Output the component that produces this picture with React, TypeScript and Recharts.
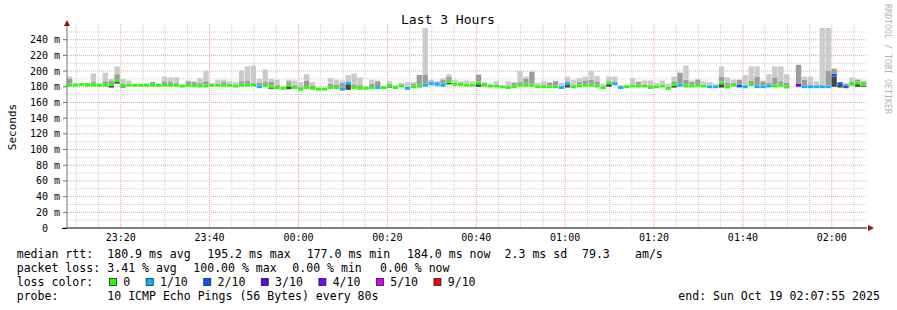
import React from "react";
import { ComposedChart, Bar, XAxis, YAxis, CartesianGrid, Cell } from "recharts";

// SmokePing "Last 3 Hours" graph, 80s steps from 23:07:55 to 02:07:55
const startTime = "23:07:55";
const windowSeconds = 3 * 3600;
const stepSeconds = 80;
const timeLabels = ["23:20", "23:40", "00:00", "00:20", "00:40", "01:00", "01:20", "01:40", "02:00"];
const yTicks = [0, 20, 40, 60, 80, 100, 120, 140, 160, 180, 200, 220, 240];
const yMinor = [10, 30, 50, 70, 90, 110, 130, 150, 170, 190, 210, 230, 250];
const yMax = 260;

// median rtt (ms) per step, null = all pings lost
const median: (number | null)[] = [
  182, 182, 183, 182, 182, 182, 182, 183, 188, 182, 182, 182, 182, 182, 182, 182, 182, 182, 182, 181,
  182, 182, 181, 181, 182, 182, 182, 182, 181, 182, 182, 182, 180, 182, 180, 179, 178, 182, 179, 177,
  179, 178, 177, 177, 179, 179, 177, 185, 179, 178, 178, 179, 179, 179, 182, 179, 181, 178, 180, 181,
  182, 184, 183, 182, 187, 183, 183, 182, 182, 185, 182, 181, 181, 180, 179, 180, 182, 182, 182, 180,
  180, 180, 180, 179, 184, 180, 181, 182, 182, 181, 179, 185, 184, 179, 180, 181, 181, 181, 179, 180,
  181, 178, 183, 182, 181, 181, 182, 181, 180, 180, 185, 180, 182, 181, 180, 183, 180, 180, 181, 181,
  182, 180, null, 182, 180, 180, 180, 180, 180, 195, 184, 180, 183, 185, 183,
];
// lost pings out of 10
const loss = [
  0, 0, 0, 0, 0, 0, 0, 0, 0, 0, 0, 0, 0, 0, 0, 0, 0, 0, 0, 0,
  0, 0, 0, 0, 0, 0, 0, 0, 0, 0, 0, 0, 1, 0, 0, 0, 0, 0, 0, 0,
  0, 0, 0, 0, 0, 0, 1, 1, 0, 0, 0, 0, 1, 0, 0, 0, 0, 1, 0, 0,
  1, 1, 1, 1, 0, 0, 0, 0, 0, 0, 0, 0, 0, 0, 0, 0, 0, 0, 0, 0,
  0, 0, 0, 1, 1, 0, 0, 0, 0, 0, 0, 0, 1, 1, 0, 0, 0, 0, 0, 0,
  0, 0, 0, 1, 0, 0, 0, 0, 1, 1, 0, 0, 0, 2, 1, 0, 1, 1, 1, 0,
  0, 0, 10, 3, 1, 1, 1, 1, 1, 2, 2, 2, 0, 0, 0,
];
// fastest ping
const low = [
  181, 181, 182, 181, 181, 181, 181, 179, 184, 179, 181, 181, 181, 181, 181, 180, 181, 181, 181, 180,
  180, 180, 180, 180, 181, 181, 181, 181, 180, 181, 181, 181, 179, 181, 177, 178, 177, 177, 178, 176,
  178, 177, 176, 176, 178, 178, 176, 176, 178, 177, 177, 178, 178, 178, 179, 178, 180, 176, 179, 179,
  181, 182, 182, 181, 183, 182, 182, 181, 181, 180, 181, 180, 180, 179, 178, 179, 181, 181, 180, 179,
  179, 179, 179, 178, 179, 179, 180, 181, 181, 180, 178, 180, 182, 178, 179, 180, 180, 180, 178, 179,
  180, 177, 179, 181, 180, 180, 181, 180, 179, 179, 179, 179, 181, 180, 179, 181, 179, 179, 180, 180,
  181, 178, 0, 181, 179, 179, 179, 179, 179, 180, 179, 179, 182, 180, 180,
];
// top of the darker smoke
const mid = [
  190, 183, 184, 185, 186, 184, 187, 188, 196, 184, 184, 183, 183, 184, 186, 184, 187, 186, 185, 182,
  187, 186, 185, 187, 183, 184, 186, 184, 183, 187, 188, 185, 185, 186, 186, 182, 179, 187, 182, 180,
  188, 181, 178, 178, 184, 183, 185, 186, 183, 182, 180, 184, 187, 180, 184, 181, 184, 180, 184, 195,
  195, 187, 186, 189, 193, 185, 184, 183, 183, 195, 185, 182, 183, 181, 181, 185, 186, 190, 199, 182,
  183, 185, 187, 181, 187, 183, 186, 188, 189, 187, 181, 188, 186, 181, 181, 183, 186, 183, 182, 181,
  183, 180, 187, 198, 189, 186, 189, 183, 182, 181, 193, 185, 185, 189, 182, 188, 193, 187, 185, 192,
  187, 185, 0, 208, 189, 183, 182, 183, 200, 203, 186, 184, 186, 189, 186,
];
// slowest ping
const high = [
  193, 185, 184, 185, 197, 185, 198, 190, 206, 190, 188, 183, 183, 185, 186, 184, 193, 192, 192, 182,
  188, 187, 191, 200, 185, 189, 189, 187, 186, 201, 206, 207, 190, 202, 190, 189, 180, 189, 188, 186,
  196, 186, 178, 178, 191, 189, 188, 195, 197, 192, 181, 189, 188, 181, 187, 182, 185, 186, 186, 195,
  255, 189, 187, 191, 196, 189, 187, 188, 187, 196, 186, 184, 187, 181, 187, 186, 200, 193, 200, 185,
  187, 186, 187, 185, 193, 189, 191, 193, 200, 194, 184, 193, 193, 182, 181, 191, 187, 188, 188, 185,
  188, 184, 193, 198, 207, 188, 190, 187, 186, 184, 206, 192, 189, 189, 195, 206, 206, 188, 196, 206,
  206, 196, 0, 208, 193, 193, 187, 255, 255, 203, 186, 185, 192, 190, 188,
];

const lossThresholds = [0, 1, 2, 3, 4, 5, 9];
const lossColors = ["#26ff00", "#00b8ff", "#0059ff", "#5e00ff", "#7e00ff", "#dd00ff", "#ff0000"];
const lossLabels = ["0", "1/10", "2/10", "3/10", "4/10", "5/10", "9/10"];

const rttStats = ["180.9 ms avg", "195.2 ms max", "177.0 ms min", "184.0 ms now", "2.3 ms sd", "79.3", "am/s"];
const lossStats = ["3.41 % avg", "100.00 % max", "0.00 % min", "0.00 % now"];
const probeText = "10 ICMP Echo Pings (56 Bytes) every 80s";
const endText = "end: Sun Oct 19 02:07:55 2025";

const MONO = "'DejaVu Sans Mono', monospace";
const BAND = 3.6; // thickness of the median line, ms
const CHAR = 6.95;

const toSec = (t: string) => {
  const [h, m, s = "0"] = t.split(":");
  return +h * 3600 + +m * 60 + +s;
};
const offsetOf = (t: string) => (toSec(t) - toSec(startTime) + 86400) % 86400;

const majorT = timeLabels.map(offsetOf);
const minorT: number[] = [];
for (let t = 23 * 3600 + 10 * 60; t < 23 * 3600 + 10 * 60 + windowSeconds; t += 300) {
  const off = (t - toSec(startTime) + 86400) % 86400;
  if (!majorT.includes(off) && off < windowSeconds) minorT.push(off);
}

const colorFor = (l: number) => {
  let c = lossColors[0];
  lossThresholds.forEach((th, k) => {
    if (l >= th) c = lossColors[k];
  });
  return c;
};

const rows = median.map((m, i) => {
  const t = i * stepSeconds + stepSeconds / 2; // middle of the step
  if (m === null) return { t, base: 0, dark: 0, band: 0, medium: 0, light: 0, loss: loss[i] };
  const lo = m - BAND / 2;
  const hi = m + BAND / 2;
  const base = Math.min(low[i], lo);
  const topMid = Math.max(mid[i], hi);
  return {
    t,
    base,
    dark: lo - base,
    band: BAND,
    medium: topMid - hi,
    light: Math.max(high[i], topMid) - topMid,
    loss: loss[i],
  };
});

// grid positions: use the axis scale if we get one, else map through the plot offset
const yCoords = (vals: number[]) => ({ yAxis, offset }: any) =>
  vals.map((v) =>
    yAxis && typeof yAxis.scale === "function"
      ? yAxis.scale(v)
      : offset.top + offset.height * (1 - v / yMax)
  );
const xCoords = (vals: number[]) => ({ xAxis, offset }: any) =>
  vals.map((t) =>
    xAxis && typeof xAxis.scale === "function"
      ? xAxis.scale(t)
      : offset.left + (offset.width * t) / windowSeconds
  );

const YTick = (props: any) => {
  const { y, payload } = props;
  const v = payload.value;
  return (
    <text x={v === 0 ? 48 : 60} y={y} dy="0.35em" textAnchor="end" fontFamily={MONO} fontSize={10} fill="#000" style={{ whiteSpace: "pre" }}>
      {v === 0 ? "0" : `${v} m`}
    </text>
  );
};

const Overlay = () => {
  let bx = 109;
  const legendItems = lossLabels.map((lab, k) => {
    const item = { x: bx, label: lab, color: lossColors[k] };
    bx = bx + 14.3 + lab.length * CHAR + 15.45;
    return item;
  });
  const rttX = [107.3, 207.3, 306.7, 407, 504.6, 582, 635];
  const lossX = [107.3, 193.3, 292.3, 380];
  const txt = { fontFamily: MONO, fontSize: 11.55, fill: "#000" } as const;
  return (
    <svg width={897} height={310} style={{ position: "absolute", left: 0, top: 0, pointerEvents: "none" }}>
      <text x={448} y={24} textAnchor="middle" fontFamily={MONO} fontSize={13} fill="#000">
        Last 3 Hours
      </text>
      <text transform="translate(15.5,127) rotate(-90)" textAnchor="middle" fontFamily={MONO} fontSize={11} fill="#000">
        Seconds
      </text>
      <text transform="translate(885,4) rotate(90)" fontFamily={MONO} fontSize={8.3} fill="#b5b5b5">
        RRDTOOL / TOBI OETIKER
      </text>
      <line x1={62} y1={228.5} x2={67} y2={228.5} stroke="#000" />
      <polygon points="64,26 70,26 67,20" fill="#8b1010" />
      <polygon points="868,225 868,231 874,228" fill="#8b1010" />

      <text x={16.7} y={258} {...txt}>median rtt:</text>
      {rttStats.map((s, k) => (
        <text key={s} x={rttX[k]} y={258} {...txt}>{s}</text>
      ))}
      <text x={16.7} y={272} {...txt}>packet loss:</text>
      {lossStats.map((s, k) => (
        <text key={s} x={lossX[k]} y={272} {...txt}>{s}</text>
      ))}
      <text x={16.7} y={286} {...txt}>loss color:</text>
      {legendItems.map((it) => (
        <g key={it.label}>
          <rect x={it.x + 0.5} y={278.5} width={7} height={7} fill={it.color} stroke="#222" strokeWidth={0.8} />
          <text x={it.x + 14.3} y={286} {...txt}>{it.label}</text>
        </g>
      ))}
      <text x={16.7} y={300} {...txt}>probe:</text>
      <text x={107.3} y={300} {...txt}>{probeText}</text>
      <text x={678.3} y={300} {...txt}>{endText}</text>
    </svg>
  );
};

export default function App() {
  return (
    <div style={{ position: "absolute", left: 0, top: 0, width: 897, height: 310, background: "#fff" }}>
      <ComposedChart width={897} height={310} data={rows} margin={{ top: 24, right: 30, bottom: 62, left: 0 }} barCategoryGap={0} barGap={0}>
        <CartesianGrid
          stroke="#cfcfcf"
          strokeDasharray="1 1"
          horizontalCoordinatesGenerator={yCoords(yMinor)}
          verticalCoordinatesGenerator={xCoords(minorT)}
        />
        <CartesianGrid
          stroke="#eba3a3"
          strokeDasharray="1 1"
          horizontalCoordinatesGenerator={yCoords(yTicks.filter((v) => v > 0))}
          verticalCoordinatesGenerator={xCoords(majorT)}
        />
        <XAxis
          dataKey="t"
          type="number"
          domain={[0, windowSeconds]}
          ticks={majorT}
          tickFormatter={(v: number) => timeLabels[majorT.indexOf(v)] ?? ""}
          allowDataOverflow
          interval={0}
          height={20}
          axisLine={{ stroke: "#000" }}
          tickLine={false}
          tickSize={4}
          tickMargin={2}
          tick={{ fontFamily: MONO, fontSize: 10, fill: "#000" }}
        />
        <YAxis
          type="number"
          domain={[0, yMax]}
          ticks={yTicks}
          interval={0}
          width={67}
          axisLine={{ stroke: "#777" }}
          tickLine={{ stroke: "#777" }}
          tickSize={4}
          tick={<YTick />}
        />
        <Bar dataKey="base" stackId="s" fill="none" barSize={6} isAnimationActive={false} />
        <Bar dataKey="dark" stackId="s" fill="#444" barSize={6} isAnimationActive={false} />
        <Bar dataKey="band" stackId="s" barSize={6} isAnimationActive={false}>
          {rows.map((r) => (
            <Cell key={r.t} fill={colorFor(r.loss)} />
          ))}
        </Bar>
        <Bar dataKey="medium" stackId="s" fill="#9c9c9c" barSize={6} isAnimationActive={false} />
        <Bar dataKey="light" stackId="s" fill="#cbcbcb" barSize={6} isAnimationActive={false} />
      </ComposedChart>
      <Overlay />
    </div>
  );
}
